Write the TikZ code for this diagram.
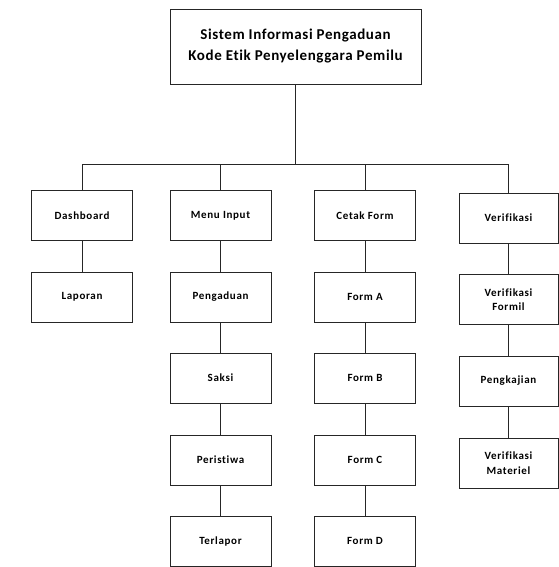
\documentclass[tikz,border=0pt]{standalone}
\usepackage{fontspec}
\setmainfont{Carlito}[Ligatures=NoCommon]
\begin{document}
\begin{tikzpicture}[x=1pt,y=-1pt,
  box/.style={draw=black!85, line width=0.9pt, minimum width=101pt, minimum height=50pt, inner sep=0pt, align=center,
    font=\bfseries\fontsize{11}{14.5}\selectfont\addfontfeature{LetterSpace=6}},
  conn/.style={draw=black!85, line width=0.9pt}]
\useasboundingbox (0,0) rectangle (558,567);
\node[box, minimum width=251pt, minimum height=75pt, font=\bfseries\fontsize{15}{21}\selectfont\addfontfeature{LetterSpace=4}] (top) at (295.5,46.5) {Sistem Informasi Pengaduan\\Kode Etik Penyelenggara Pemilu};
\coordinate (bus) at (295.5,164);
% column 1
\node[box] (dash) at (82,215.5) {Dashboard};
\node[box] (lap) at (82,297) {Laporan};
% column 2
\node[box] (menu) at (220.5,215.5) {Menu Input};
\node[box] (peng) at (220.5,297) {Pengaduan};
\node[box] (saksi) at (220.5,378) {Saksi};
\node[box] (peris) at (220.5,460) {Peristiwa};
\node[box] (terl) at (220.5,541) {Terlapor};
% column 3
\node[box] (cetak) at (365,215.5) {Cetak Form};
\node[box] (fa) at (365,297) {Form A};
\node[box] (fb) at (365,378) {Form B};
\node[box] (fc) at (365,460) {Form C};
\node[box] (fd) at (365,541) {Form D};
% column 4
\node[box, minimum width=99pt] (ver) at (508.5,218) {Verifikasi};
\node[box, minimum width=99pt] (form) at (508.5,299.5) {Verifikasi\\Formil};
\node[box, minimum width=99pt] (kaji) at (508.5,381) {Pengkajian};
\node[box, minimum width=99pt] (mat) at (508.5,463) {Verifikasi\\Materiel};
% connectors
\draw[conn, line width=1.6pt] (top.south) -- (bus);
\draw[conn] (dash.north) -- (dash.north |- bus) -- (ver.north |- bus) -- (ver.north);
\draw[conn] (menu.north) -- (menu.north |- bus);
\draw[conn] (cetak.north) -- (cetak.north |- bus);
\draw[conn] (dash) -- (lap);
\draw[conn] (menu) -- (peng);
\draw[conn] (peng) -- (saksi);
\draw[conn] (saksi) -- (peris);
\draw[conn] (peris) -- (terl);
\draw[conn] (cetak) -- (fa);
\draw[conn] (fa) -- (fb);
\draw[conn] (fb) -- (fc);
\draw[conn] (fc) -- (fd);
\draw[conn] (ver) -- (form);
\draw[conn] (form) -- (kaji);
\draw[conn] (kaji) -- (mat);
\end{tikzpicture}
\end{document}
